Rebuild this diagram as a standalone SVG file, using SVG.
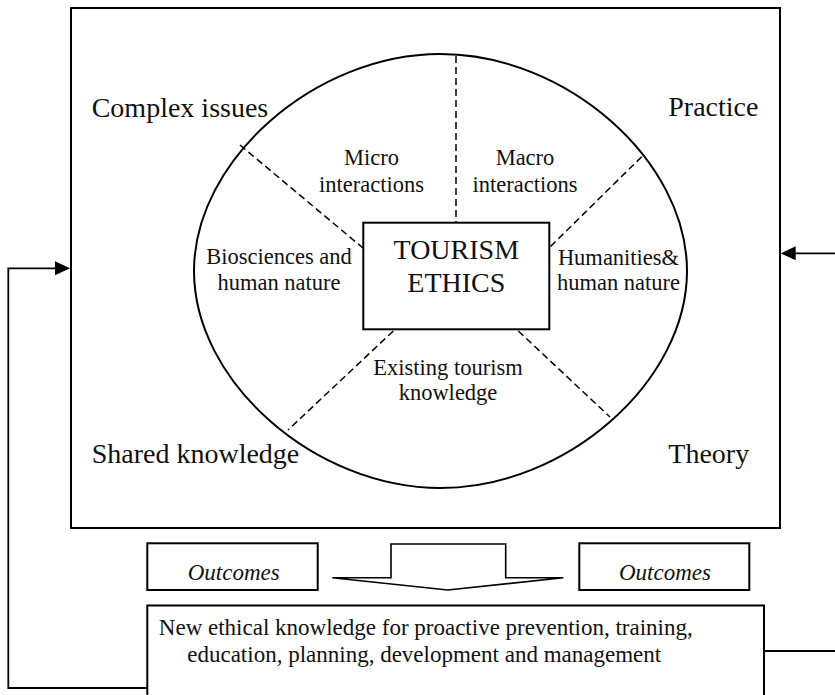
<svg xmlns="http://www.w3.org/2000/svg" width="835" height="695" viewBox="0 0 835 695">
<style>
  .frame{fill:none;stroke:#000;stroke-width:2}
  .dash{fill:none;stroke:#000;stroke-width:1.5;stroke-dasharray:7,4}
  .conn{fill:none;stroke:#000;stroke-width:1.8}
  .big{font-family:"Liberation Serif","Times New Roman",serif;font-size:28px;fill:#111}
  .mid{font-family:"Liberation Serif","Times New Roman",serif;font-size:22.5px;fill:#111;text-anchor:middle}
  .ctr{font-family:"Liberation Serif","Times New Roman",serif;font-size:28px;fill:#111;text-anchor:middle}
  .out{font-family:"Liberation Serif","Times New Roman",serif;font-size:23px;font-style:italic;fill:#111;text-anchor:middle}
  .body{font-family:"Liberation Serif","Times New Roman",serif;font-size:23px;fill:#111;text-anchor:middle}
</style>
<defs>
  <marker id="ah" viewBox="0 0 15 14" refX="7" refY="7" markerWidth="15" markerHeight="14" orient="auto" markerUnits="userSpaceOnUse">
    <path d="M0,0 L15,7 L0,14 Z" fill="#000"/>
  </marker>
</defs>
<rect width="835" height="695" fill="#fff"/>

<g id="frame">
  <rect class="frame" x="71" y="8" width="709" height="520"/>
  <text class="big" x="91.7" y="116.7">Complex issues</text>
  <text class="big" x="668.3" y="116">Practice</text>
  <text class="big" x="91.7" y="462.7">Shared knowledge</text>
  <text class="big" x="668.3" y="462.7">Theory</text>
</g>

<g id="ellipse">
  <path class="frame" d="M687,271 C687,381.7 566.2,488 440.5,488 C314.8,488 194,381.7 194,271 C194,160.3 314.8,54 440.5,54 C566.2,54 687,160.3 687,271 Z"/>
</g>

<g id="dividers">
  <line class="dash" x1="456" y1="56" x2="456" y2="222.7"/>
  <line class="dash" x1="240" y1="145" x2="363.3" y2="248.3"/>
  <line class="dash" x1="641.7" y1="156.7" x2="550" y2="247"/>
  <line class="dash" x1="393.3" y1="331" x2="288" y2="430"/>
  <line class="dash" x1="518.3" y1="331" x2="610" y2="417"/>
</g>

<g id="micro">
  <text class="mid" x="371.5" y="165">Micro</text>
  <text class="mid" x="371.5" y="192">interactions</text>
</g>
<g id="macro">
  <text class="mid" x="525" y="165">Macro</text>
  <text class="mid" x="525" y="192">interactions</text>
</g>
<g id="biosciences">
  <text class="mid" x="279" y="264">Biosciences and</text>
  <text class="mid" x="279" y="290">human nature</text>
</g>
<g id="humanities">
  <text class="mid" x="618.5" y="265">Humanities&amp;</text>
  <text class="mid" x="618.5" y="290">human nature</text>
</g>
<g id="existing">
  <text class="mid" x="448" y="375">Existing tourism</text>
  <text class="mid" x="448" y="400">knowledge</text>
</g>

<g id="tourism-ethics">
  <rect class="frame" x="363.3" y="222.7" width="186" height="106.6" fill="#fff"/>
  <text class="ctr" x="456.3" y="259.3">TOURISM</text>
  <text class="ctr" x="456.3" y="291.7">ETHICS</text>
</g>

<g id="outcomes-left">
  <rect class="frame" x="147.3" y="543.3" width="170.4" height="46.7"/>
  <text class="out" x="233.7" y="580">Outcomes</text>
</g>
<g id="outcomes-right">
  <rect class="frame" x="579.3" y="543.3" width="170" height="46.7"/>
  <text class="out" x="665" y="580">Outcomes</text>
</g>
<g id="down-arrow">
  <path d="M332.3,577.7 H391 V544 H505.7 V577.7 H563.3 L447.8,590 Z" fill="#fff" stroke="#000" stroke-width="1.6" stroke-linejoin="miter"/>
</g>

<g id="new-knowledge">
  <rect class="frame" x="147.3" y="605.5" width="616.7" height="110" fill="#fff"/>
  <text class="body" x="425.8" y="635">New ethical knowledge for proactive prevention, training,</text>
  <text class="body" x="424.2" y="661.7">education, planning, development and management</text>
</g>

<g id="connectors">
  <path class="conn" d="M147.3,688 H8.3 V268.3 H62" marker-end="url(#ah)"/>
  <path class="conn" d="M764,651 H835"/>
  <path class="conn" d="M835,253.3 H788.7" marker-end="url(#ah)"/>
</g>
</svg>
